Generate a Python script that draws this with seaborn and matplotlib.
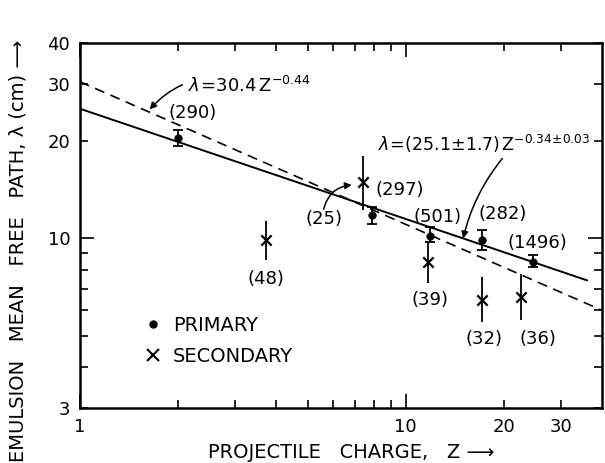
import matplotlib
matplotlib.use("Agg")
import matplotlib.pyplot as plt
from matplotlib.lines import Line2D
from matplotlib.ticker import FixedLocator, FuncFormatter
import seaborn as sns

# primary beams
prim_z = [2.0, 7.85, 11.85, 17.1, 24.5]
prim_lam = [20.4, 11.8, 10.15, 9.9, 8.45]
prim_lo = [19.2, 11.1, 9.75, 9.23, 8.16]
prim_hi = [21.6, 12.5, 10.8, 10.6, 8.87]
prim_n = ["(290)", "(297)", "(501)", "(282)", "(1496)"]
prim_lab_z = [2.22, 9.6, 12.5, 19.8, 25.4]
prim_lab_lam = [24.3, 14.1, 11.6, 11.85, 9.7]

# secondary fragments
sec_z = [3.72, 7.37, 11.7, 17.1, 22.5]
sec_lam = [9.9, 14.9, 8.45, 6.44, 6.6]
sec_lo = [8.6, 12.2, 7.27, 5.52, 5.6]
sec_hi = [11.3, 17.9, 9.72, 7.6, 7.75]
sec_n = ["(48)", "(25)", "(39)", "(32)", "(36)"]
sec_lab_z = [3.72, 5.6, 11.85, 17.35, 25.4]
sec_lab_lam = [7.48, 11.5, 6.44, 4.89, 4.89]

# fitted lines (end points)
fit_z = [1.0, 36.0]
fit_lam = [25.1, 7.42]
old_z = [1.0, 40.0]
old_lam = [30.4, 6.0]

sns.set_style("ticks")
plt.rcParams["font.family"] = ["DejaVu Sans"]
plt.rcParams["mathtext.fontset"] = "dejavusans"
plt.rcParams["text.color"] = "black"
plt.rcParams["axes.labelcolor"] = "black"

fig = plt.figure(figsize=(6.05, 4.63), dpi=100)
ax = fig.add_axes([0.132, 0.119, 0.863, 0.788])
ax.set_xscale("log")
ax.set_yscale("log")

sns.lineplot(x=fit_z, y=fit_lam, ax=ax, color="black", lw=1.4)
sns.lineplot(x=old_z, y=old_lam, ax=ax, color="black", lw=1.2)
ax.lines[-1].set_dashes((6, 4))

ax.errorbar(prim_z, prim_lam,
            yerr=[[l - lo for l, lo in zip(prim_lam, prim_lo)],
                  [hi - l for l, hi in zip(prim_lam, prim_hi)]],
            fmt="none", ecolor="black", elinewidth=1.3, capsize=3.5, capthick=1.3)
ax.errorbar(sec_z, sec_lam,
            yerr=[[l - lo for l, lo in zip(sec_lam, sec_lo)],
                  [hi - l for l, hi in zip(sec_lam, sec_hi)]],
            fmt="none", ecolor="black", elinewidth=1.3, capsize=0)
sns.scatterplot(x=prim_z, y=prim_lam, ax=ax, marker="o", s=30, color="black",
                edgecolor="black", zorder=5)
sns.scatterplot(x=sec_z, y=sec_lam, ax=ax, marker="x", s=55, color="black",
                linewidth=1.6, zorder=5)

for z, l, t in zip(prim_lab_z, prim_lab_lam, prim_n):
    ax.text(z, l, t, ha="center", va="center", fontsize=13)
for z, l, t in zip(sec_lab_z, sec_lab_lam, sec_n):
    ax.text(z, l, t, ha="center", va="center", fontsize=13)

arrow = dict(arrowstyle="-|>", color="black", lw=1.1, mutation_scale=10)
ax.annotate(r"$\lambda\!=\!30.4\,\mathrm{Z}^{-0.44}$", xy=(1.617, 24.6), xytext=(2.15, 29.6),
            fontsize=13, va="center", ha="left",
            arrowprops=dict(arrow, connectionstyle="arc3,rad=0.35", shrinkA=2))
ax.annotate(r"$\lambda\!=\!(25.1\!\pm\!1.7)\,\mathrm{Z}^{-0.34\!\pm\!0.03}$", xy=(15.0, 9.99),
            xytext=(8.2, 19.5), fontsize=12.5, va="center", ha="left",
            arrowprops=dict(arrow, connectionstyle="arc3,rad=0.12",
                            shrinkA=0, shrinkB=0, relpos=(0.6, 0.0)))
ax.annotate("", xy=(6.83, 14.6), xytext=(5.6, 12.3),
            arrowprops=dict(arrow, connectionstyle="arc3,rad=-0.35", shrinkA=0, shrinkB=0))

handles = [Line2D([], [], marker="o", ls="none", color="black", markersize=5),
           Line2D([], [], marker="x", ls="none", color="black", markersize=8, mew=1.5)]
ax.legend(handles, ["PRIMARY", "SECONDARY"], loc="upper left",
          bbox_to_anchor=(0.085, 0.30), frameon=False, fontsize=14,
          handletextpad=0.4, labelspacing=0.6, handlelength=1.2)

ax.set_xlim(1, 40)
ax.set_ylim(3, 40)
ax.xaxis.set_major_locator(FixedLocator([1, 10]))
ax.xaxis.set_minor_locator(FixedLocator([2, 3, 4, 5, 6, 7, 8, 9, 20, 30]))
ax.xaxis.set_major_formatter(FuncFormatter(lambda v, p: f"{v:g}"))
ax.xaxis.set_minor_formatter(FuncFormatter(lambda v, p: f"{v:g}" if v in (20, 30) else ""))
ax.yaxis.set_major_locator(FixedLocator([10]))
ax.yaxis.set_minor_locator(FixedLocator([3, 4, 5, 6, 7, 8, 9, 20, 30, 40]))
ax.yaxis.set_major_formatter(FuncFormatter(lambda v, p: f"{v:g}"))
ax.yaxis.set_minor_formatter(FuncFormatter(lambda v, p: f"{v:g}" if v in (3, 20, 30, 40) else ""))
ax.tick_params(which="both", direction="in", top=True, right=True, labelsize=13,
               width=1.2, pad=7, colors="black")
ax.tick_params(which="major", length=10)
ax.tick_params(which="minor", length=6)
for s in ax.spines.values():
    s.set_linewidth(1.8)
    s.set_color("black")

ax.set_xlabel("PROJECTILE   CHARGE,   Z ⟶", fontsize=14)
ax.xaxis.set_label_coords(0.52, -0.095)
ax.set_ylabel("EMULSION   MEAN   FREE   PATH, λ (cm) ⟶", fontsize=14)
ax.yaxis.set_label_coords(-0.1, 0.43)

fig.savefig("out.png", dpi=100)
